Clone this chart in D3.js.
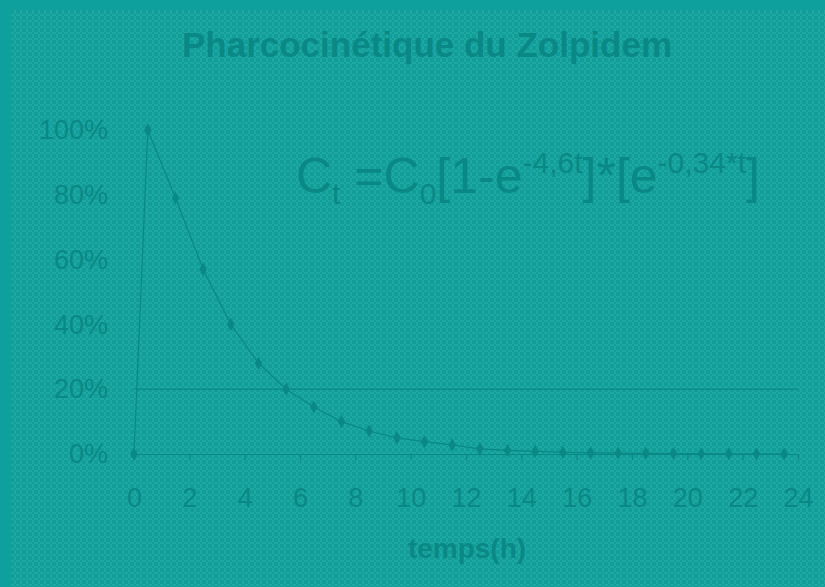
<!DOCTYPE html>
<html>
<head>
<meta charset="utf-8">
<script src="https://cdn.jsdelivr.net/npm/d3@7"></script>
<style>
  body { margin: 0; background: #0ea09c; }
  svg { display: block; }
</style>
</head>
<body>
<div id="chart"></div>
<script>
// data (percent of peak)
var hours = [0, 0.5, 1.5, 2.5, 3.5, 4.5, 5.5, 6.5, 7.5, 8.5, 9.5, 10.5, 11.5,
  12.5, 13.5, 14.5, 15.5, 16.5, 17.5, 18.5, 19.5, 20.5, 21.5, 22.5, 23.5];
var conc = [0, 100, 79, 57, 40, 28, 20, 14.5, 10, 7.1, 5, 3.8, 2.8,
  1.6, 1.1, 0.8, 0.5, 0.35, 0.25, 0.2, 0.15, 0.1, 0.07, 0.05, 0.03];
var xTicks = [0, 2, 4, 6, 8, 10, 12, 14, 16, 18, 20, 22, 24];
var yTicks = [0, 20, 40, 60, 80, 100];

var W = 825, H = 587;
var ink = '#0a8886';
var font = 'Liberation Sans, Arial, sans-serif';

var svg = d3.select('#chart').append('svg')
    .attr('width', W)
    .attr('height', H);

// background texture
var defs = svg.append('defs');
var pat = defs.append('pattern')
    .attr('id', 'tex')
    .attr('patternUnits', 'userSpaceOnUse')
    .attr('width', 6).attr('height', 6);
pat.append('rect').attr('width', 6).attr('height', 6).attr('fill', '#129d99');
pat.append('rect').attr('x', 2).attr('y', 0).attr('width', 2).attr('height', 6).attr('fill', '#1ea8a4');
pat.append('rect').attr('x', 0).attr('y', 2).attr('width', 6).attr('height', 2).attr('fill', '#1ea8a4');
pat.append('rect').attr('x', 2).attr('y', 2).attr('width', 2).attr('height', 2).attr('fill', '#129d99');

svg.append('rect').attr('width', W).attr('height', H).attr('fill', '#0ea09c');
svg.append('rect').attr('x', 11).attr('y', 10).attr('width', W - 11).attr('height', H - 10)
    .attr('fill', 'url(#tex)');

var x = d3.scaleLinear().domain([0, 24]).range([134, 798]);
var y = d3.scaleLinear().domain([0, 100]).range([454, 130]);

// title
svg.append('text')
    .attr('x', 427).attr('y', 57)
    .attr('text-anchor', 'middle')
    .attr('font-family', font)
    .attr('font-weight', 'bold')
    .attr('font-size', 35)
    .attr('fill', ink)
    .text('Pharcocinétique du Zolpidem');

// 20% gridline
svg.append('line')
    .attr('x1', x(0)).attr('x2', x(24))
    .attr('y1', y(20)).attr('y2', y(20))
    .attr('stroke', ink).attr('stroke-width', 1.2);

// x axis
var xAxis = d3.axisBottom(x).tickValues(xTicks).tickSize(6).tickSizeOuter(0).tickPadding(28);
var gx = svg.append('g').attr('transform', 'translate(0,' + y(0) + ')').call(xAxis);
gx.selectAll('line, path').attr('stroke', ink).attr('stroke-width', 1.2);
gx.selectAll('text')
    .attr('font-family', font)
    .attr('font-size', 27)
    .attr('fill', ink);

// y labels
var yAxis = d3.axisLeft(y).tickValues(yTicks).tickSize(0).tickPadding(26)
    .tickFormat(function(d){ return d + '%'; });
var gy = svg.append('g').attr('transform', 'translate(' + x(0) + ',0)').call(yAxis);
gy.select('path').remove();
gy.selectAll('text')
    .attr('font-family', font)
    .attr('font-size', 27)
    .attr('fill', ink);

// x axis title
svg.append('text')
    .attr('x', 467).attr('y', 558)
    .attr('text-anchor', 'middle')
    .attr('font-family', font)
    .attr('font-weight', 'bold')
    .attr('font-size', 28)
    .attr('fill', ink)
    .text('temps(h)');

// curve
var pts = hours.map(function(h, i){ return [h, conc[i]]; });
var line = d3.line()
    .x(function(d){ return x(d[0]); })
    .y(function(d){ return y(d[1]); });
svg.append('path')
    .datum(pts)
    .attr('d', line)
    .attr('fill', 'none')
    .attr('stroke', ink)
    .attr('stroke-width', 1.2);

svg.selectAll('.mk')
    .data(pts)
    .enter().append('path')
    .attr('class', 'mk')
    .attr('transform', function(d){ return 'translate(' + x(d[0]) + ',' + y(d[1]) + ')'; })
    .attr('d', d3.symbol().type(d3.symbolDiamond).size(50))
    .attr('fill', ink);

// formula
var f = svg.append('text')
    .attr('x', 296).attr('y', 193)
    .attr('font-family', font)
    .attr('font-size', 50)
    .attr('fill', ink);
f.append('tspan').text('C');
f.append('tspan').attr('font-size', 30).attr('dy', 11).text('t');
f.append('tspan').attr('dy', -11).text(' =C');
f.append('tspan').attr('font-size', 30).attr('dy', 11).text('0');
f.append('tspan').attr('dy', -11).text('[1-e');
f.append('tspan').attr('font-size', 30).attr('dy', -20).text('-4,6t');
f.append('tspan').attr('dy', 20).text(']*[e');
f.append('tspan').attr('font-size', 30).attr('dy', -20).text('-0,34*t');
f.append('tspan').attr('dy', 20).text(']');
</script>
</body>
</html>
